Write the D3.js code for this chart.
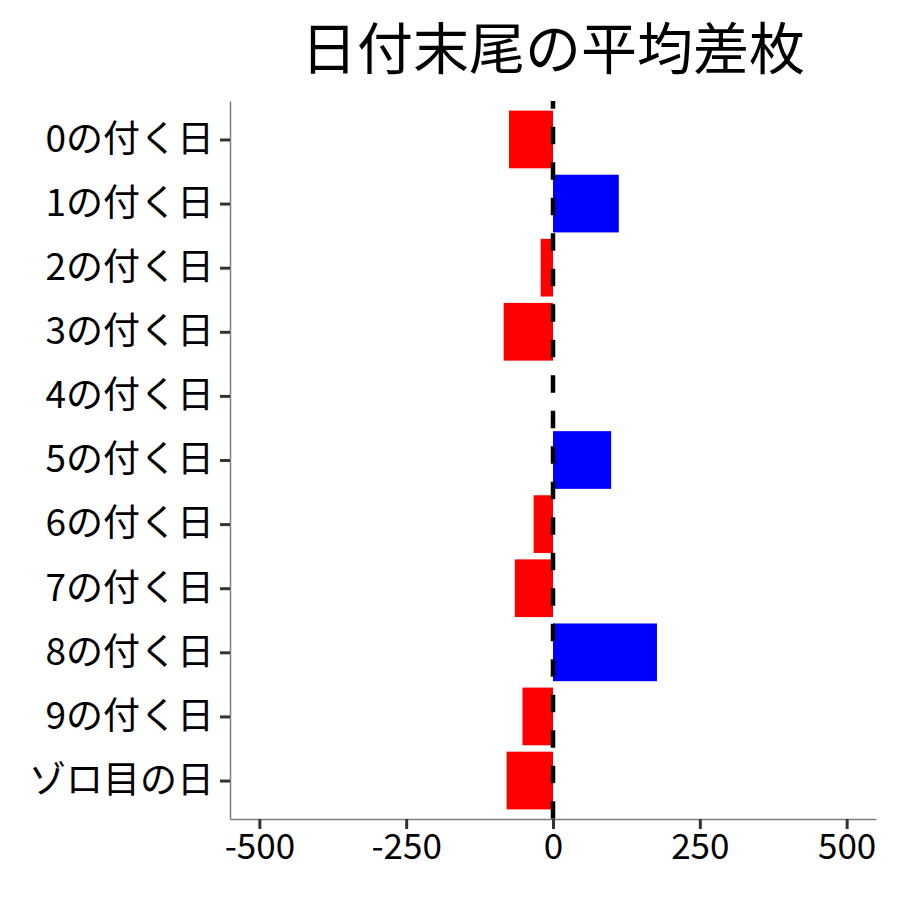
<!DOCTYPE html>
<html>
<head>
<meta charset="utf-8">
<script src="https://cdn.jsdelivr.net/npm/d3@7"></script>
<style>
  body { margin: 0; background: #fff; }
  text { font-family: "Noto Sans CJK JP", "Noto Sans", sans-serif; }
</style>
</head>
<body>
<svg id="chart"></svg>
<script>
// 日付末尾ごとの平均差枚
const categories = ["0の付く日", "1の付く日", "2の付く日", "3の付く日", "4の付く日",
    "5の付く日", "6の付く日", "7の付く日", "8の付く日", "9の付く日", "ゾロ目の日"];
const values = [-75, 112, -21, -84, 0, 99, -33, -65, 177, -52, -79];
const xTicks = [-500, -250, 0, 250, 500];
const title = "日付末尾の平均差枚";

const width = 900, height = 900;
const margin = {top: 101, right: 24, bottom: 81, left: 230};
const innerW = width - margin.left - margin.right;
const innerH = height - margin.top - margin.bottom;

const svg = d3.select("#chart").attr("width", width).attr("height", height);

const x = d3.scaleLinear().domain([-550, 550]).range([margin.left, margin.left + innerW]);

// ggplot風の離散軸 (両側 0.6 の余白)
const y = d3.scalePoint()
    .domain(categories)
    .range([margin.top, margin.top + innerH])
    .padding(0.6);
const barH = y.step() * 0.9;

// title
svg.append("text")
    .attr("x", margin.left + innerW / 2)
    .attr("y", 69)
    .attr("text-anchor", "middle")
    .attr("font-size", "56px")
    .attr("fill", "black")
    .text(title);

// bars
svg.append("g")
    .selectAll("rect").data(values)
    .enter()
    .append("rect")
    .attr("x", d => x(Math.min(0, d)))
    .attr("y", (d, i) => y(categories[i]) - barH / 2)
    .attr("width", d => Math.abs(x(d) - x(0)))
    .attr("height", barH)
    .attr("fill", d => d > 0 ? "blue" : "red");

// 0 の破線
svg.append("line")
    .attr("x1", x(0)).attr("x2", x(0))
    .attr("y1", margin.top).attr("y2", margin.top + innerH)
    .attr("stroke", "black")
    .attr("stroke-width", 4.5)
    .attr("stroke-dasharray", "17.5,18")
    .attr("stroke-dashoffset", 9.8);

// X axis
const axisX = svg.append("g")
    .attr("transform", `translate(0, ${margin.top + innerH})`)
    .call(d3.axisBottom(x).tickValues(xTicks).tickFormat(d => String(d))
        .tickSizeInner(10).tickSizeOuter(0).tickPadding(5));
axisX.select(".domain").attr("stroke", "#7f7f7f").attr("stroke-width", 1.5);
axisX.selectAll(".tick line").attr("stroke", "#333").attr("stroke-width", 3);
axisX.selectAll(".tick text").attr("font-size", "35px").attr("fill", "black");

// Y axis
const axisY = svg.append("g")
    .attr("transform", `translate(${margin.left}, 0)`)
    .call(d3.axisLeft(y).tickSizeInner(10).tickSizeOuter(0).tickPadding(6));
axisY.select(".domain").attr("stroke", "#7f7f7f").attr("stroke-width", 1.5);
axisY.selectAll(".tick line").attr("stroke", "#333").attr("stroke-width", 3);
axisY.selectAll(".tick text").attr("font-size", "37px").attr("fill", "black");
</script>
</body>
</html>
